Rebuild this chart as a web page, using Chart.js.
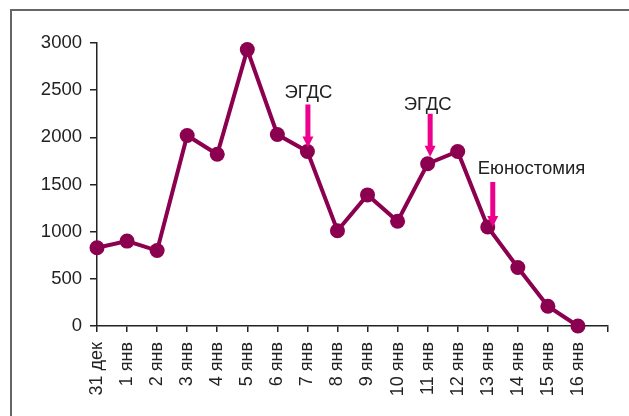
<!DOCTYPE html>
<html>
<head>
<meta charset="utf-8">
<script src="https://cdn.jsdelivr.net/npm/chart.js@4"></script>
<style>
  html, body { margin: 0; padding: 0; background: #fff; overflow: hidden; }
  canvas { display: block; }
</style>
</head>
<body>
<canvas id="c" width="629" height="416"></canvas>
<script>
// Daily values, 31 Dec – 16 Jan
const categories = ['31 дек', '1 янв', '2 янв', '3 янв', '4 янв', '5 янв', '6 янв', '7 янв', '8 янв',
  '9 янв', '10 янв', '11 янв', '12 янв', '13 янв', '14 янв', '15 янв', '16 янв', ''];
const values = [830, 900, 800, 2020, 1820, 2930, 2030, 1850, 1010, 1390, 1110, 1720, 1850, 1050, 620, 210, 0];
const yTicks = [0, 500, 1000, 1500, 2000, 2500, 3000];

// Procedure markers: label text and the day index they point to
const markerLabels = ['ЭГДС', 'ЭГДС', 'Еюностомия'];
const markerIndex = [7, 11, 13];

const lineColor = '#8c0050';
const arrowColor = '#ec008c';
const font = '"Liberation Sans", Arial, Helvetica, sans-serif';

// Grey frame along the top and left edges of the figure
const framePlugin = {
  id: 'frame',
  beforeDraw(chart) {
    const ctx = chart.ctx;
    ctx.save();
    ctx.strokeStyle = '#666';
    ctx.lineWidth = 2;
    ctx.beginPath();
    ctx.moveTo(11, chart.height);
    ctx.lineTo(11, 10);
    ctx.lineTo(chart.width, 10);
    ctx.stroke();
    ctx.restore();
  }
};

const markerPlugin = {
  id: 'markers',
  afterDatasetsDraw(chart) {
    const ctx = chart.ctx;
    const xs = chart.scales.x, ys = chart.scales.y;
    // per-marker drawing tweaks
    const style = [
      { dx: 0.5, lift: 4, len: 43, align: 'center', tdx: 0.5, gap: 6 },
      { dx: 2.5, lift: 7, len: 43, align: 'center', tdx: -2.5, gap: 4 },
      { dx: 5,   lift: 0, len: 45, align: 'left',   tdx: -15, gap: 8 }
    ];
    markerLabels.forEach((txt, i) => {
      const idx = markerIndex[i];
      const s = style[i];
      const x = xs.getPixelForValue(idx) + s.dx;
      const tip = ys.getPixelForValue(values[idx]) - s.lift;
      const top = tip - s.len;
      ctx.save();
      ctx.fillStyle = arrowColor;
      ctx.fillRect(x - 2.5, top, 5, s.len - 10);
      ctx.beginPath();
      ctx.moveTo(x - 5.5, tip - 11);
      ctx.lineTo(x + 5.5, tip - 11);
      ctx.lineTo(x, tip);
      ctx.closePath();
      ctx.fill();
      ctx.fillStyle = '#222';
      ctx.font = '18.5px ' + font;
      ctx.textAlign = s.align;
      ctx.textBaseline = 'alphabetic';
      ctx.fillText(txt, x + s.tdx, top - s.gap);
      ctx.restore();
    });
  }
};

new Chart(document.getElementById('c'), {
  type: 'line',
  data: {
    labels: categories,
    datasets: [{
      data: values,
      borderColor: lineColor,
      backgroundColor: lineColor,
      borderWidth: 4,
      pointRadius: 7.5,
      pointHoverRadius: 7.5,
      pointBackgroundColor: lineColor,
      pointBorderWidth: 0,
      tension: 0,
      clip: false
    }]
  },
  options: {
    responsive: false,
    animation: false,
    devicePixelRatio: 1,
    layout: { padding: { left: 0, right: 21, top: 43, bottom: 0 } },
    plugins: { legend: { display: false }, tooltip: { enabled: false } },
    scales: {
      x: {
        type: 'category',
        offset: false,
        grid: { display: true, drawOnChartArea: false, tickLength: 6, color: '#222', lineWidth: 1.5 },
        border: { display: true, color: '#222', width: 1.5 },
        ticks: {
          autoSkip: false, minRotation: 90, maxRotation: 90, padding: 10,
          color: '#222', font: { family: font, size: 18 }
        },
        afterFit(scale) {
          scale.height = 90;
          scale.paddingLeft = 0;
          scale.paddingRight = 0;
        }
      },
      y: {
        min: 0, max: 3000,
        afterBuildTicks(scale) { scale.ticks = yTicks.map(v => ({ value: v })); },
        grid: { display: true, drawOnChartArea: false, tickLength: 7, color: '#222', lineWidth: 1.5 },
        border: { display: true, color: '#222', width: 1.5 },
        ticks: {
          padding: 8, color: '#222', font: { family: font, size: 18.5 },
          callback: v => String(v)
        },
        afterFit(scale) { scale.width = 97; }
      }
    }
  },
  plugins: [framePlugin, markerPlugin]
});
</script>
</body>
</html>
